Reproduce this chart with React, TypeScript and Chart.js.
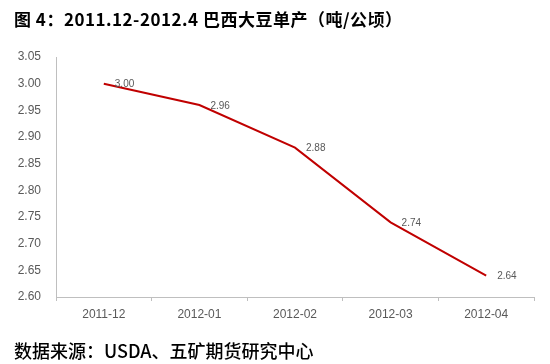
import React, { useEffect, useRef } from "react";
import { Chart, registerables } from "chart.js";

Chart.register(...registerables);

const categories = ["2011-12", "2012-01", "2012-02", "2012-03", "2012-04"];
const yieldValues = [3.0, 2.96, 2.88, 2.74, 2.64];
const yMin = 2.6;
const yMax = 3.05;
const yStep = 0.05;
const titleText = "图 4：2011.12-2012.4 巴西大豆单产（吨/公顷）";
const footerText = "数据来源：USDA、五矿期货研究中心";

const labelPlugin = {
  id: "valueLabels",
  afterDatasetsDraw(chart: any) {
    const ctx = chart.ctx;
    const meta = chart.getDatasetMeta(0);
    ctx.save();
    ctx.font = '10px "Liberation Sans", Arial, sans-serif';
    ctx.fillStyle = "#595959";
    ctx.textAlign = "left";
    ctx.textBaseline = "middle";
    meta.data.forEach((pt: any, i: number) => {
      const v = chart.data.datasets[0].data[i] as number;
      ctx.fillText(v.toFixed(2), pt.x + 11, pt.y + 1);
    });
    ctx.restore();
  },
};

export default function App() {
  const ref = useRef<HTMLCanvasElement>(null);
  useEffect(() => {
    if (!ref.current) return;
    const chart = new Chart(ref.current, {
      type: "line",
      data: {
        labels: categories,
        datasets: [
          {
            data: yieldValues,
            borderColor: "#C00000",
            backgroundColor: "#C00000",
            borderWidth: 2,
            pointRadius: 0,
            tension: 0,
          },
        ],
      },
      options: {
        responsive: false,
        animation: false,
        layout: { padding: { top: 57, right: 16, left: 0, bottom: 0 } },
        plugins: { legend: { display: false }, tooltip: { enabled: false } },
        scales: {
          x: {
            offset: true,
            grid: {
              offset: true,
              drawOnChartArea: false,
              drawTicks: true,
              tickLength: 4,
              color: "#BFBFBF",
            },
            border: { color: "#BFBFBF", width: 1 },
            ticks: {
              color: "#595959",
              font: { family: '"Liberation Sans", Arial, sans-serif', size: 12 },
              padding: 6,
              maxRotation: 0,
            },
            afterFit(scale: any) {
              scale.height = 67;
            },
          },
          y: {
            min: yMin,
            max: yMax,
            grid: { display: false, drawTicks: false },
            border: { color: "#BFBFBF", width: 1 },
            ticks: {
              stepSize: yStep,
              color: "#595959",
              font: { family: '"Liberation Sans", Arial, sans-serif', size: 12 },
              padding: 15,
              callback: (v: any) => Number(v).toFixed(2),
            },
            afterFit(scale: any) {
              scale.width = 56;
            },
          },
        },
      },
      plugins: [labelPlugin],
    });
    return () => chart.destroy();
  }, []);

  return (
    <div style={{ position: "fixed", left: 0, top: 0, width: 550, height: 364, background: "#fff" }}>
      <canvas ref={ref} width={550} height={364} style={{ position: "absolute", left: 0, top: 0 }} />
      <div
        style={{
          position: "absolute",
          left: 14,
          top: 10,
          fontFamily: '"Noto Sans CJK SC", sans-serif',
          fontWeight: 700,
          fontSize: 17,
          letterSpacing: 0.5,
          lineHeight: "17px",
          color: "#000",
          whiteSpace: "nowrap",
        }}
      >
        {titleText}
      </div>
      <div
        style={{
          position: "absolute",
          left: 14,
          top: 341,
          fontFamily: '"Noto Sans CJK SC", sans-serif',
          fontWeight: 500,
          fontSize: 18,
          lineHeight: "18px",
          color: "#000",
          whiteSpace: "nowrap",
        }}
      >
        {footerText}
      </div>
    </div>
  );
}
